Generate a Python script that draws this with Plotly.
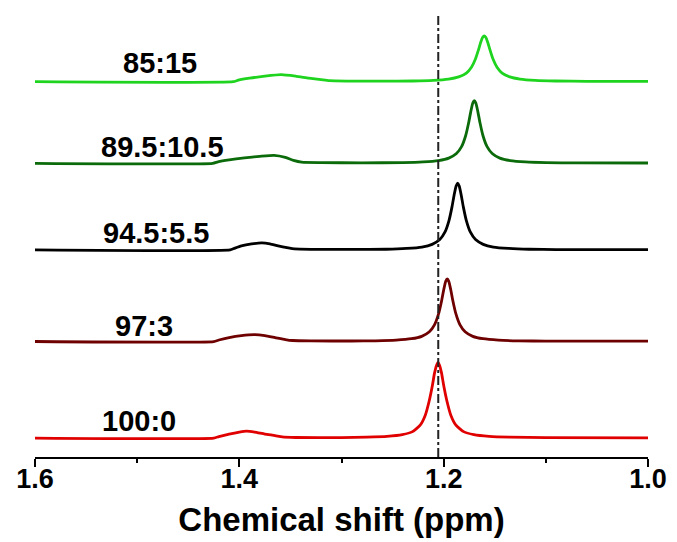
import plotly.graph_objects as go

# ---- data ----
samples = ["100:0", "97:3", "94.5:5.5", "89.5:10.5", "85:15"]
colors = ["#e00000", "#6e0000", "#000000", "#0b6b0b", "#1ed41e"]
offsets = [19, 116, 208, 295, 377]   # vertical stacking offsets (a.u.)
ref_shift = 1.2053                   # dashed reference line (ppm)

ppm_100_0 = [1.600, 1.425, 1.420, 1.410, 1.400, 1.393, 1.385, 1.375, 1.365, 1.358, 1.345, 1.300,
             1.2755, 1.2555, 1.2405, 1.2305, 1.223, 1.218, 1.214, 1.211, 1.209, 1.207, 1.2055,
             1.204, 1.202, 1.200, 1.197, 1.193, 1.188, 1.1805, 1.1705, 1.1555, 1.1355, 1.100, 1.000]
int_100_0 = [0.0, 0.0, 1.5, 4.0, 6.0, 7.0, 6.0, 4.0, 2.5, 1.2, 0.6, 0.5,
             1.0, 1.8, 3.5, 6.5, 13.0, 23.0, 38.0, 53.0, 65.0, 73.0, 76.0,
             73.0, 65.0, 53.0, 38.0, 23.0, 13.0, 6.5, 3.5, 1.8, 1.0, 0.5, 0.3]

ppm_97_3 = [1.600, 1.425, 1.420, 1.410, 1.398, 1.385, 1.375, 1.365, 1.355, 1.348, 1.330, 1.290,
            1.2665, 1.2465, 1.2315, 1.2215, 1.214, 1.209, 1.205, 1.202, 1.200, 1.198, 1.1965,
            1.195, 1.193, 1.191, 1.188, 1.184, 1.179, 1.1715, 1.1615, 1.1465, 1.1265, 1.100, 1.000]
int_97_3 = [0.0, 0.0, 1.5, 4.0, 6.0, 7.0, 6.0, 4.0, 2.0, 1.0, 0.6, 0.5,
            0.7, 1.4, 2.8, 5.2, 9.8, 16.7, 27.7, 41.0, 51.7, 60.5, 63.0,
            60.5, 51.7, 41.0, 27.7, 16.7, 9.8, 5.2, 2.8, 1.4, 0.7, 0.4, 0.3]

ppm_94_5 = [1.600, 1.409, 1.405, 1.398, 1.388, 1.378, 1.370, 1.362, 1.352, 1.346, 1.330, 1.290,
            1.2563, 1.2363, 1.2213, 1.2113, 1.2038, 1.1988, 1.1948, 1.1918, 1.1898, 1.1878, 1.1863,
            1.1848, 1.1828, 1.1808, 1.1778, 1.1738, 1.1688, 1.1613, 1.1513, 1.1363, 1.1163, 1.090, 1.000]
int_94_5 = [0.0, 0.0, 1.5, 4.0, 6.0, 7.0, 6.0, 4.0, 2.0, 1.0, 0.6, 0.5,
            0.7, 1.5, 2.9, 5.6, 10.4, 17.8, 29.5, 43.5, 55.0, 64.3, 67.0,
            64.3, 55.0, 43.5, 29.5, 17.8, 10.4, 5.6, 2.9, 1.5, 0.7, 0.4, 0.3]

ppm_89_5 = [1.600, 1.426, 1.421, 1.410, 1.395, 1.380, 1.366, 1.355, 1.347, 1.339, 1.320, 1.280,
            1.240, 1.220, 1.205, 1.195, 1.1875, 1.1825, 1.1785, 1.1755, 1.1735, 1.1715, 1.170,
            1.1685, 1.1665, 1.1645, 1.1615, 1.1575, 1.1525, 1.145, 1.135, 1.120, 1.100, 1.070, 1.000]
int_89_5 = [0.0, 0.0, 1.5, 3.5, 5.5, 7.0, 8.0, 6.0, 3.0, 1.2, 0.7, 0.5,
            0.7, 1.4, 2.8, 5.2, 9.8, 16.7, 27.7, 41.0, 51.7, 60.5, 63.0,
            60.5, 51.7, 41.0, 27.7, 16.7, 9.8, 5.2, 2.8, 1.4, 0.7, 0.4, 0.3]

ppm_85_15 = [1.600, 1.406, 1.401, 1.390, 1.375, 1.359, 1.345, 1.332, 1.320, 1.312, 1.295, 1.260,
             1.2303, 1.2103, 1.1953, 1.1853, 1.1778, 1.1728, 1.1688, 1.1658, 1.1638, 1.1618, 1.1603,
             1.1588, 1.1568, 1.1548, 1.1518, 1.1478, 1.1428, 1.1353, 1.1253, 1.1103, 1.0903, 1.060, 1.000]
int_85_15 = [0.0, 0.0, 1.5, 3.5, 5.5, 7.0, 5.5, 3.5, 2.0, 1.0, 0.6, 0.5,
             0.7, 1.3, 2.6, 4.8, 8.7, 14.5, 23.0, 32.4, 39.3, 44.6, 46.0,
             44.6, 39.3, 32.4, 23.0, 14.5, 8.7, 4.8, 2.6, 1.3, 0.7, 0.4, 0.3]

ppm_series = [ppm_100_0, ppm_97_3, ppm_94_5, ppm_89_5, ppm_85_15]
int_series = [int_100_0, int_97_3, int_94_5, int_89_5, int_85_15]

tick_vals = [1.6, 1.4, 1.2, 1.0]
tick_text = ["1.6", "1.4", "1.2", "1.0"]
minor_vals = [1.5, 1.3, 1.1]

# label placement (ppm, a.u.)
label_pos = [(1.498, 36), (1.493, 132), (1.482, 225), (1.475, 311), (1.478, 396)]

FONT = "Liberation Sans, Arial, sans-serif"

fig = go.Figure()
for name, xs, ys, off, col in zip(samples, ppm_series, int_series, offsets, colors):
    fig.add_trace(go.Scatter(
        x=xs, y=[v + off for v in ys], mode="lines", name=name,
        line=dict(color=col, width=2.8, shape="spline", smoothing=0.5),
        showlegend=False, hoverinfo="skip"))

for name, (lx, ly) in zip(samples, label_pos):
    fig.add_annotation(x=lx, y=ly, text="<b>%s</b>" % name, showarrow=False,
                       font=dict(family=FONT, size=29, color="black"),
                       xanchor="center", yanchor="middle")

fig.add_shape(type="line", x0=ref_shift, x1=ref_shift, y0=0, y1=444,
              xref="x", yref="y",
              line=dict(color="#222222", width=2, dash="dashdot"))

fig.update_layout(
    width=677, height=542,
    margin=dict(l=35, r=27, t=10, b=83),
    paper_bgcolor="white", plot_bgcolor="white",
    xaxis=dict(
        range=[1.6, 1.0], tickvals=tick_vals, ticktext=tick_text,
        ticks="outside", ticklen=8, tickwidth=2, tickcolor="black",
        ticklabelstandoff=-11,
        showline=True, linewidth=2, linecolor="black", showgrid=False, zeroline=False,
        tickfont=dict(family=FONT, size=27, color="black", weight="bold"),
        minor=dict(tickvals=minor_vals, ticks="outside", ticklen=4, tickwidth=2,
                   tickcolor="black", showgrid=False),
        title=dict(text="<b>Chemical shift (ppm)</b>",
                   font=dict(family=FONT, size=33, color="black"), standoff=14),
    ),
    yaxis=dict(range=[0, 449], visible=False, showgrid=False, zeroline=False),
)

fig.write_html("out.html")
